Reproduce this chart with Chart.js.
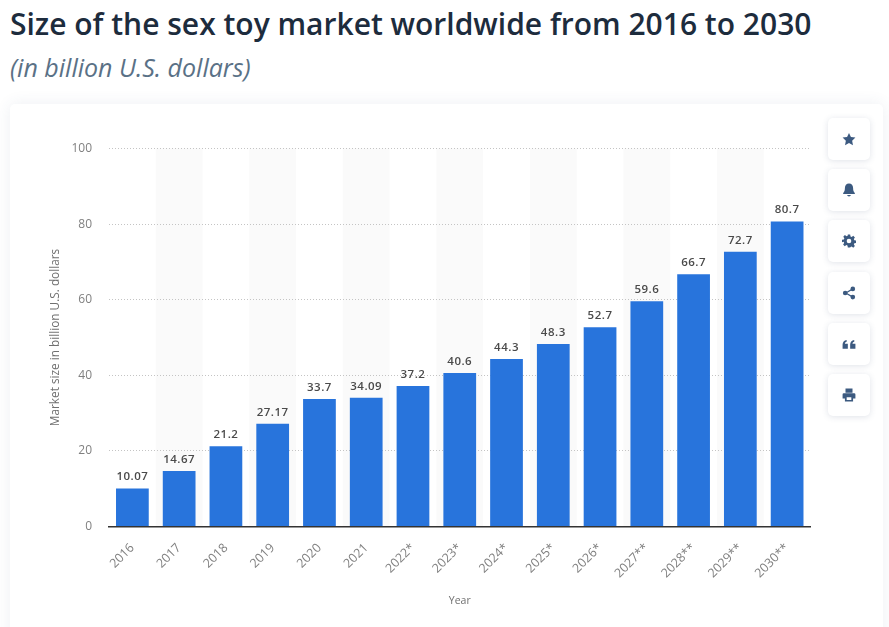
<!DOCTYPE html>
<html>
<head>
<meta charset="utf-8">
<title>Size of the sex toy market worldwide</title>
<script src="https://cdn.jsdelivr.net/npm/chart.js@4"></script>
<style>
html, body { margin: 0; padding: 0; background: #fff; overflow: hidden; }
body { width: 889px; height: 627px; position: relative; font-family: "Open Sans", sans-serif; }
h1 { position: absolute; left: 10px; top: 5px; margin: 0; font-size: 30px; line-height: 38px; font-weight: 600; color: #1d2c3d; white-space: nowrap; }
h2 { position: absolute; left: 10px; top: 50px; margin: 0; font-size: 25px; line-height: 34px; font-weight: 400; font-style: italic; color: #5a7186; white-space: nowrap; }
.card { position: absolute; left: 10px; top: 104px; width: 873px; height: 560px; background: #fff; border-radius: 5px; box-shadow: 0 0 16px rgba(60, 80, 120, 0.09); }
#myChart { position: absolute; left: 0; top: 0; }
.btn { position: absolute; left: 828px; width: 42px; height: 42px; background: #fff; border-radius: 5px; box-shadow: 0 1px 6px rgba(60, 80, 120, 0.16); display: flex; align-items: center; justify-content: center; }
.btn svg { width: 14px; height: 14px; fill: #3c5a80; }
</style>
</head>
<body>
<h1>Size of the sex toy market worldwide from 2016 to 2030</h1>
<h2>(in billion U.S. dollars)</h2>
<div class="card"></div>
<canvas id="myChart" width="889" height="627"></canvas>

<div class="btn" style="top:118px"><svg viewBox="0 0 24 24"><path d="M12 1.5l3.3 7 7.7 1-5.6 5.3 1.4 7.7-6.8-3.7-6.8 3.7 1.4-7.7L1 9.500l7.700-1z"/></svg></div>
<div class="btn" style="top:169px"><svg viewBox="0 0 24 24"><path d="M12 1c-4.400 0-7 3.500-7 7.500 0 5-1.500 7-3 8.500v2h20v-2c-1.500-1.500-3-3.500-3-8.500C19 4.500 16.400 1 12 1zM9 20.500c0 1.700 1.300 2.500 3 2.500s3-.8 3-2.500z"/></svg></div>
<div class="btn" style="top:220px"><svg viewBox="0 0 24 24"><path fill-rule="evenodd" d="M10 1h4l.6 3.200 2 .8 2.700-1.800 2.800 2.800-1.800 2.700.8 2 3.200.6v4l-3.200.6-.8 2 1.800 2.700-2.800 2.800-2.700-1.800-2 .8L14 23h-4l-.6-3.200-2-.8-2.700 1.800-2.800-2.800 1.800-2.700-.8-2L0 14v-4l3.200-.6.8-2L2.200 4.700 5 1.900l2.700 1.800 2-.8zM12 8a4 4 0 1 0 0 8 4 4 0 0 0 0-8z"/></svg></div>
<div class="btn" style="top:272px"><svg viewBox="0 0 24 24"><circle cx="18.500" cy="5" r="4"/><circle cx="5.500" cy="12" r="4"/><circle cx="18.500" cy="19" r="4"/><path d="M6 11L18 4l1 2-12 7zM7 11l12 7-1 2L6 13z"/></svg></div>
<div class="btn" style="top:323px"><svg viewBox="0 0 24 24"><path d="M1 20v-7c0-4.500 2.500-7 7-8v3c-2 .6-3 1.600-3 3.500h5V20zM14 20v-7c0-4.500 2.500-7 7-8v3c-2 .6-3 1.600-3 3.500h5V20z"/></svg></div>
<div class="btn" style="top:374px"><svg viewBox="0 0 24 24"><path d="M6 1h12v7H6zM3 9h18a2 2 0 0 1 2 2v7h-4v5H5v-5H1v-7a2 2 0 0 1 2-2zm5 7v4.500h8V16z"/></svg></div>

<script>
// チャートのデータ
const categories = ['2016', '2017', '2018', '2019', '2020', '2021', '2022*', '2023*', '2024*', '2025*', '2026*', '2027**', '2028**', '2029**', '2030**'];
const marketSize = [10.07, 14.67, 21.2, 27.17, 33.7, 34.09, 37.2, 40.6, 44.3, 48.3, 52.7, 59.6, 66.7, 72.7, 80.7];
const valueLabels = ['10.07', '14.67', '21.2', '27.17', '33.7', '34.09', '37.2', '40.6', '44.3', '48.3', '52.7', '59.6', '66.7', '72.7', '80.7'];
const yTicks = [0, 20, 40, 60, 80, 100];

// 1つおきのカテゴリに薄い背景帯を描く
const bandPlugin = {
    id: 'bands',
    beforeDraw(chart) {
        const { ctx, chartArea, scales } = chart;
        const step = scales.x.getPixelForValue(1) - scales.x.getPixelForValue(0);
        ctx.save();
        ctx.fillStyle = '#fafafa';
        categories.forEach((c, i) => {
            if (i % 2 === 1) {
                ctx.fillRect(scales.x.getPixelForValue(i) - step / 2, chartArea.top, step, chartArea.bottom - chartArea.top);
            }
        });
        ctx.restore();
    }
};

// 棒の上に値を表示
const valueLabelPlugin = {
    id: 'valueLabels',
    afterDatasetsDraw(chart) {
        const { ctx } = chart;
        ctx.save();
        ctx.font = '600 11.5px "Open Sans"';
        ctx.letterSpacing = '0.5px';
        ctx.fillStyle = '#4a4a4a';
        ctx.textAlign = 'center';
        ctx.textBaseline = 'alphabetic';
        chart.getDatasetMeta(0).data.forEach((bar, i) => {
            ctx.fillText(valueLabels[i], bar.x, bar.y - 8);
        });
        ctx.restore();
    }
};

const myChart = new Chart(document.getElementById('myChart').getContext('2d'), {
    type: 'bar',
    data: {
        labels: categories,
        datasets: [{
            label: 'Market size in billion U.S. dollars',
            data: marketSize,
            backgroundColor: '#2874dc',
            categoryPercentage: 0.7,
            barPercentage: 1
        }]
    },
    plugins: [bandPlugin, valueLabelPlugin],
    options: {
        responsive: false,
        animation: false,
        layout: { padding: { left: 0, top: 148.5, right: 78.5, bottom: 0 } },
        plugins: { legend: { display: false }, tooltip: { enabled: false } },
        scales: {
            x: {
                afterFit(scale) { scale.height = 100.5; },
                grid: { display: false, drawTicks: false },
                border: { color: '#333', width: 1.5 },
                ticks: { color: '#808080', font: { family: 'Open Sans', size: 12.5 }, minRotation: 45, maxRotation: 45, padding: 14, autoSkip: false },
                title: { display: true, text: 'Year', color: '#707070', font: { family: 'Open Sans', size: 10.5 }, padding: { top: 0, bottom: 20 } }
            },
            y: {
                min: 0,
                max: 100,
                afterFit(scale) { scale.width = 109; },
                afterBuildTicks(scale) { scale.ticks = yTicks.map(v => ({ value: v })); },
                grid: { color: '#c4c4c4', lineWidth: 1, drawTicks: false },
                border: { display: false, dash: [1, 2] },
                ticks: { color: '#808080', font: { family: 'Open Sans', size: 12 }, padding: 17 },
                title: { display: true, text: 'Market size in billion U.S. dollars', color: '#707070', font: { family: 'Open Sans', size: 11.8 }, padding: { top: 49, bottom: 0 } }
            }
        }
    }
});
</script>
</body>
</html>
